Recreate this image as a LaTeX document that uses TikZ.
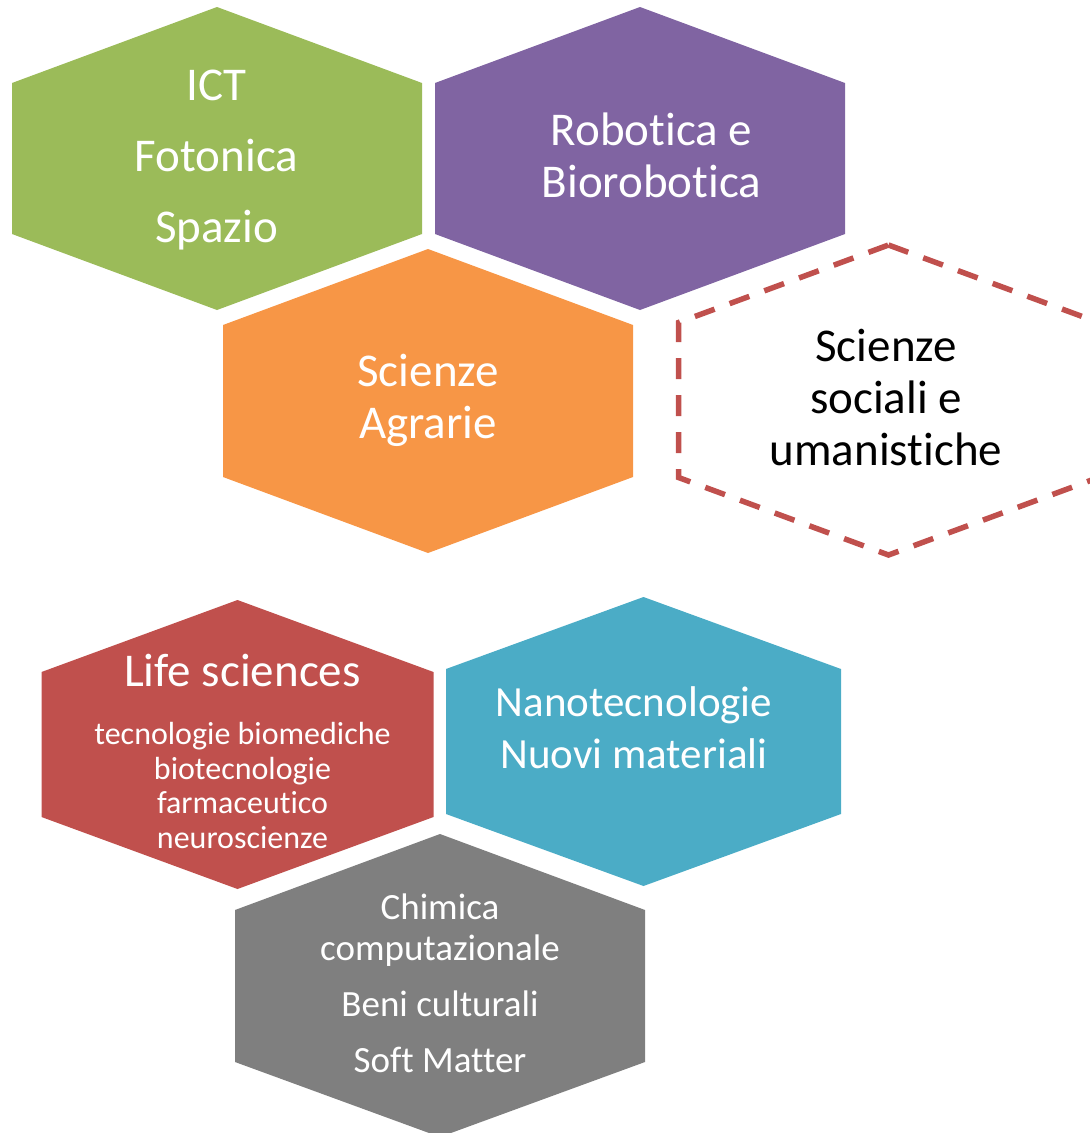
\documentclass[tikz,border=0pt]{standalone}
\usepackage{fontspec}
\setmainfont{Carlito}[Ligatures=NoCommon]
\usepackage{tikz}
\usetikzlibrary{positioning}
\usetikzlibrary{calc}

\definecolor{hexgreen}{HTML}{9BBB59}
\definecolor{hexpurple}{HTML}{8064A2}
\definecolor{hexorange}{HTML}{F79646}
\definecolor{hexred}{HTML}{C0504D}
\definecolor{hexteal}{HTML}{4BACC6}
\definecolor{hexgray}{HTML}{7F7F7F}

\begin{document}
\begin{tikzpicture}[x=1pt, y=-1pt,
  area/.style={align=center, inner sep=0pt, text=white},
  bigtxt/.style={font=\fontsize{47}{52}\selectfont},
  dashhex/.style={draw=hexred, line width=5.5pt, dash pattern=on 21pt off 16pt}]

\useasboundingbox (0,0) rectangle (1090,1133);
\clip (0,0) rectangle (1090,1133);

%top group
\fill[hexgreen](217,7)--(422,83)--(422,234)--(217,310)--(12,234)--(12,83)--cycle;
\fill[hexpurple](640,7)--(845,83)--(845,234)--(640,310)--(435,234)--(435,83)--cycle;
\fill[hexorange](428,249)--(633,325)--(633,477)--(428,553)--(223,477)--(223,325)--cycle;
\draw[dashhex](888.5,245)--(1098.5,322.5)--(1098.5,477.5)--(888.5,555)--(678.5,477.5)--(678.5,322.5)--cycle;

\node[area, font=\fontsize{47}{71}\selectfont] (ict) at (216.5,156.8)
  {\strut ICT\\\strut Fotonica\\\strut Spazio};
\node[area, bigtxt] (robot) at (651.5,161.2) {\strut Robotica e\\\strut Biorobotica};
\node[area, bigtxt] (agrarie) at (428,402.4) {\strut Scienze\\\strut Agrarie};
\node[area, bigtxt, text=black] (sociali) at (886,402.6)
  {\strut Scienze\\\strut sociali e\\\strut umanistiche};

%bottom group
\fill[hexred](237.5,600)--(433.5,672)--(433.5,817)--(237.5,889)--(41.5,817)--(41.5,672)--cycle;
\fill[hexteal](643.5,597)--(841,669)--(841,814)--(643.5,886)--(446,814)--(446,669)--cycle;
\fill[hexgray](440,834)--(645,910)--(645,1062)--(440,1137)--(235,1062)--(235,910)--cycle;

\node[area, font=\fontsize{47}{52}\selectfont, anchor=base] (life) at (242.5,686.7) {Life sciences};
\node[area, font=\fontsize{32}{34.4}\selectfont] (lifelist) at (242.5,789.7)
  {\strut tecnologie biomediche\\\strut biotecnologie\\\strut farmaceutico\\\strut neuroscienze};
\node[area, font=\fontsize{43}{51.6}\selectfont] (nano) at (634,732.2) {\strut Nanotecnologie\\\strut Nuovi materiali};
\node[area, font=\fontsize{37}{41.4}\selectfont] (chimica) at (440,987.5)
  {\strut Chimica\\\strut computazionale\\[14.6pt]\strut Beni culturali\\[14.2pt]\strut Soft Matter};

\end{tikzpicture}
\end{document}
